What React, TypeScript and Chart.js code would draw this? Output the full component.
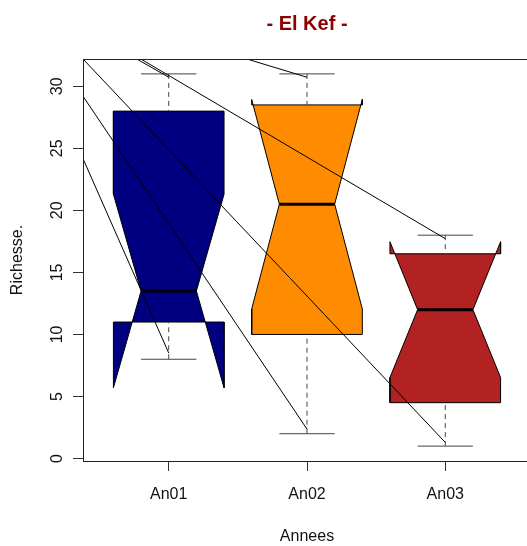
import React, { useEffect, useRef } from 'react';
import { Chart, registerables } from 'chart.js';

Chart.register(...registerables);

// ---- data ----
const CATEGORIES = ['An01', 'An02', 'An03'];
const X_TICKS = [1, 2, 3];
const WHISKER_LOW = [8, 2, 1];
const Q1 = [11, 10, 4.5];
const MEDIAN = [13.5, 20.5, 12];
const Q3 = [28, 28.5, 16.5];
const WHISKER_HIGH = [31, 31, 18];
const NOTCH_LOW = [5.7, 12.06, 6.53];
const NOTCH_HIGH = [21.3, 28.94, 17.47];
const Y_TICKS = [0, 5, 10, 15, 20, 25, 30];

// stray straight segments drawn over the plot (clipped to the plot region)
const SEG_FROM_X = [0.38, 0.38, 0.38, 0.769, 0.798, 1.565];
const SEG_FROM_Y = [32.2, 29.2, 24.17, 32.2, 32.2, 32.2];
const SEG_TO_X = [3, 2, 1, 1, 3, 2];
const SEG_TO_Y = [1.3, 2.37, 8.5, 30.73, 17.72, 30.73];

const TITLE = '- El Kef -';
const X_TITLE = 'Annees';
const Y_TITLE = 'Richesse.';

// ---- styles ----
const BOX_COLORS = ['#000080', '#FF8C00', '#B22222'];
const BOX_HALF = 0.4;
const NOTCH_FRAC = 0.5;
const FONT = "'Liberation Sans', Arial, Helvetica, sans-serif";
const TEXT_COLOR = '#111';

function lineSet(data: any[], color: string, width: number, extra: any = {}) {
  return {
    type: 'line',
    data,
    borderColor: color,
    backgroundColor: color,
    borderWidth: width,
    pointRadius: 0,
    pointHoverRadius: 0,
    fill: false,
    tension: 0,
    borderCapStyle: 'butt',
    borderJoinStyle: 'round',
    ...extra,
  };
}

function boxPolygon(i: number) {
  const c = X_TICKS[i];
  const w = BOX_HALF;
  const n = BOX_HALF * NOTCH_FRAC;
  return [
    { x: c - w, y: Q1[i] },
    { x: c + w, y: Q1[i] },
    { x: c + w, y: NOTCH_LOW[i] },
    { x: c + n, y: MEDIAN[i] },
    { x: c + w, y: NOTCH_HIGH[i] },
    { x: c + w, y: Q3[i] },
    { x: c - w, y: Q3[i] },
    { x: c - w, y: NOTCH_HIGH[i] },
    { x: c - n, y: MEDIAN[i] },
    { x: c - w, y: NOTCH_LOW[i] },
    { x: c - w, y: Q1[i] },
  ];
}

function buildDatasets() {
  const ds: any[] = [];
  // on top: stray segments
  SEG_FROM_X.forEach((_, k) => {
    ds.push(
      lineSet(
        [
          { x: SEG_FROM_X[k], y: SEG_FROM_Y[k] },
          { x: SEG_TO_X[k], y: SEG_TO_Y[k] },
        ],
        '#000',
        1
      )
    );
  });
  // medians
  CATEGORIES.forEach((_, i) => {
    const c = X_TICKS[i];
    const n = BOX_HALF * NOTCH_FRAC;
    ds.push(lineSet([{ x: c - n, y: MEDIAN[i] }, { x: c + n, y: MEDIAN[i] }], '#000', 3));
  });
  // staples
  CATEGORIES.forEach((_, i) => {
    const c = X_TICKS[i];
    const s = BOX_HALF * 0.5;
    ds.push(lineSet([{ x: c - s, y: WHISKER_LOW[i] }, { x: c + s, y: WHISKER_LOW[i] }], '#444', 1));
    ds.push(lineSet([{ x: c - s, y: WHISKER_HIGH[i] }, { x: c + s, y: WHISKER_HIGH[i] }], '#444', 1));
  });
  // whiskers (dashed)
  CATEGORIES.forEach((_, i) => {
    const c = X_TICKS[i];
    ds.push(lineSet([{ x: c, y: WHISKER_LOW[i] }, { x: c, y: Q1[i] }], '#444', 1, { borderDash: [5, 4] }));
    ds.push(lineSet([{ x: c, y: WHISKER_HIGH[i] }, { x: c, y: Q3[i] }], '#444', 1, { borderDash: [5, 4] }));
  });
  // notched boxes (bottom)
  CATEGORIES.forEach((_, i) => {
    ds.push(
      lineSet(boxPolygon(i), '#000', 1, {
        backgroundColor: BOX_COLORS[i],
        fill: 'shape',
      })
    );
  });
  return ds;
}

const framePlugin = {
  id: 'frame',
  afterDraw(chart: any) {
    const { ctx, chartArea: a } = chart;
    ctx.save();
    ctx.strokeStyle = '#222';
    ctx.lineWidth = 1;
    ctx.strokeRect(a.left + 0.5, a.top + 0.5, a.right - a.left, a.bottom - a.top);
    ctx.restore();
  },
};

const yLabelPlugin = {
  id: 'yRotLabels',
  afterDraw(chart: any) {
    const { ctx } = chart;
    const y = chart.scales.y;
    ctx.save();
    ctx.fillStyle = TEXT_COLOR;
    ctx.font = `16px ${FONT}`;
    ctx.textAlign = 'center';
    ctx.textBaseline = 'alphabetic';
    Y_TICKS.forEach((v) => {
      const py = y.getPixelForValue(v);
      ctx.save();
      ctx.translate(61.5, py);
      ctx.rotate(-Math.PI / 2);
      ctx.fillText(String(v), 0, 0);
      ctx.restore();
    });
    ctx.restore();
  },
};

export default function App() {
  const ref = useRef<HTMLCanvasElement | null>(null);

  useEffect(() => {
    document.body.style.margin = '0';
    const canvas = ref.current;
    if (!canvas) return;
    Chart.defaults.font.family = FONT;
    const chart = new Chart(canvas, {
      type: 'line',
      data: { datasets: buildDatasets() as any },
      options: {
        animation: false,
        responsive: false,
        maintainAspectRatio: false,
        events: [],
        layout: { padding: 0 },
        plugins: {
          legend: { display: false },
          tooltip: { enabled: false },
          title: {
            display: true,
            text: TITLE,
            color: '#8B0000',
            fullSize: false,
            font: { family: FONT, size: 20, weight: 'bold' },
            padding: { top: 12.7, bottom: 22.3 },
          },
        },
        scales: {
          x: {
            type: 'linear',
            min: 0.38,
            max: 3.62,
            bounds: 'data',
            afterBuildTicks: (s: any) => {
              s.ticks = X_TICKS.map((v) => ({ value: v }));
            },
            afterFit: (s: any) => {
              s.height = 85;
            },
            grid: { display: true, drawOnChartArea: false, drawTicks: true, tickLength: 10, color: '#333' },
            border: { display: false },
            ticks: {
              padding: 14,
              color: TEXT_COLOR,
              font: { family: FONT, size: 16 },
              maxRotation: 0,
              autoSkip: false,
              callback: (v: any) => {
                const k = X_TICKS.indexOf(Number(v));
                return k >= 0 ? CATEGORIES[k] : '';
              },
            },
            title: {
              display: true,
              text: X_TITLE,
              color: TEXT_COLOR,
              font: { family: FONT, size: 16 },
              padding: { top: 0, bottom: 0 },
            },
          },
          y: {
            type: 'linear',
            min: -0.2,
            max: 32.2,
            bounds: 'data',
            afterBuildTicks: (s: any) => {
              s.ticks = Y_TICKS.map((v) => ({ value: v }));
            },
            afterFit: (s: any) => {
              s.width = 83;
            },
            grid: { display: true, drawOnChartArea: false, drawTicks: true, tickLength: 10, color: '#333' },
            border: { display: false },
            ticks: { display: false },
            title: {
              display: true,
              text: Y_TITLE,
              color: TEXT_COLOR,
              font: { family: FONT, size: 16 },
              padding: { top: 7.5, bottom: 0 },
            },
          },
        },
      } as any,
      plugins: [framePlugin, yLabelPlugin],
    });
    return () => chart.destroy();
  }, []);

  return (
    <div style={{ width: 527, height: 546, overflow: 'hidden', position: 'relative', background: '#fff' }}>
      <canvas ref={ref} width={531} height={546} style={{ display: 'block' }} />
    </div>
  );
}
